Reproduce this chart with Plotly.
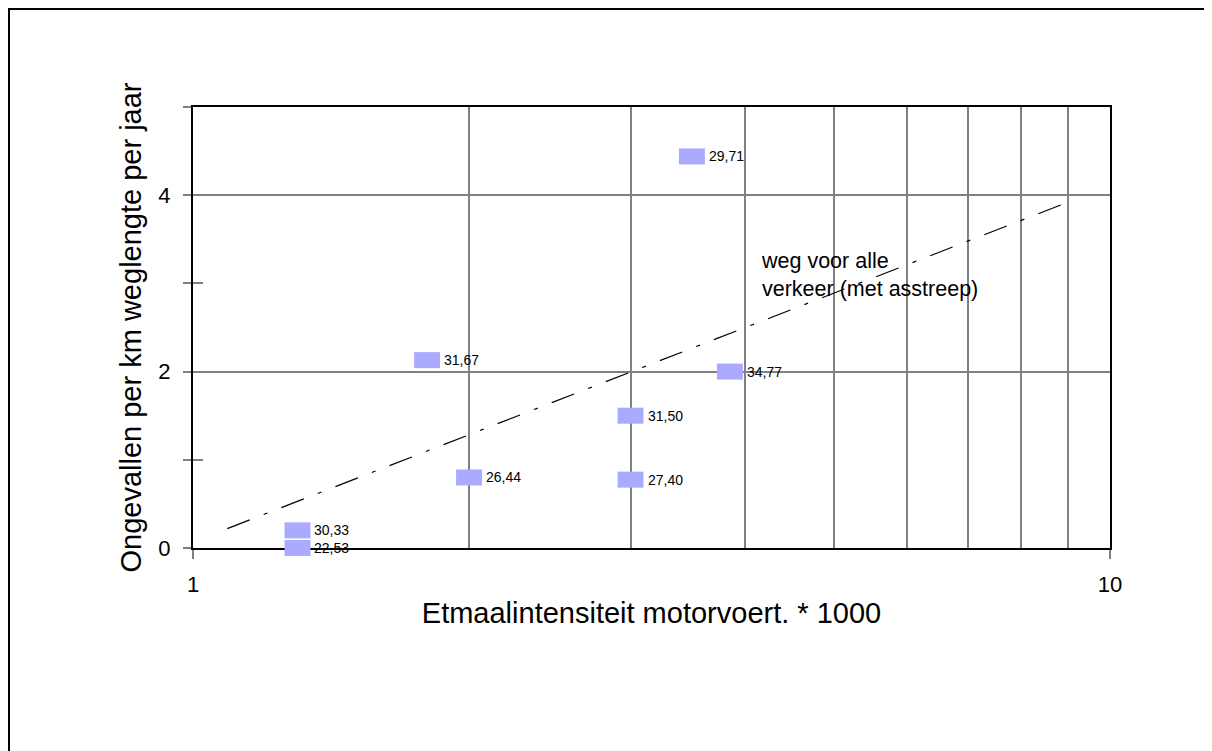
import numpy as np
import plotly.graph_objects as go

# Data
intensity = [1.3, 1.3, 1.8, 2.0, 3.0, 3.0, 3.5, 3.85]
accidents = [0.0, 0.2, 2.13, 0.8, 1.5, 0.775, 4.44, 2.0]
point_labels = ["22,53", "30,33", "31,67", "26,44", "31,50", "27,40", "29,71", "34,77"]

trend_x = [1.09, 9.1]
trend_y = [0.22, 3.94]

x_tickvals = [1, 10]
x_ticktext = ["1", "10"]
x_minor = [2, 3, 4, 5, 6, 7, 8, 9]
y_major = [0, 2, 4]
y_minor = [1, 3, 5]
y_all = [0, 1, 2, 3, 4, 5]

FONT = "Arial, 'Liberation Sans', sans-serif"
GRID = "#808080"
MARK = "#AAAAFF"

W, H = 1204, 743
L, T, PW, PH = 185, 99, 917, 441

fig = go.Figure()

fig.add_trace(go.Scatter(
    x=intensity, y=accidents, mode="markers",
    marker=dict(symbol="line-ew", size=18.5, color=MARK,
                line=dict(color=MARK, width=16)),
    cliponaxis=False, showlegend=False, hoverinfo="skip"))

fig.add_trace(go.Scatter(
    x=trend_x, y=trend_y, mode="lines", yaxis="y2",
    line=dict(color="black", width=1.2, dash="24px,15px,4px,15px"),
    showlegend=False, hoverinfo="skip"))

annotations = []
for xv, yv, lab in zip(intensity, accidents, point_labels):
    annotations.append(dict(
        x=np.log10(xv), y=yv, xref="x", yref="y", text=lab, showarrow=False,
        xanchor="left", yanchor="middle", xshift=15,
        font=dict(family=FONT, size=14, color="black")))

annotations.append(dict(
    x=np.log10(4.14), y=3.09, xref="x", yref="y",
    text="weg voor alle<br>verkeer (met asstreep)", showarrow=False,
    xanchor="left", yanchor="middle", align="left",
    font=dict(family=FONT, size=21.5, color="black")))

fig.update_layout(
    width=W, height=H,
    margin=dict(l=L, r=W - L - PW, t=T, b=H - T - PH),
    paper_bgcolor="white", plot_bgcolor="white",
    font=dict(family=FONT, color="black"),
    showlegend=False,
    xaxis=dict(
        type="log", range=[0, 1],
        tickvals=x_tickvals, ticktext=x_ticktext,
        ticks="outside", ticklen=9, tickwidth=1.5, tickcolor=GRID,
        tickfont=dict(family=FONT, size=22, color="black"),
        ticklabelstandoff=7,
        showgrid=True, gridcolor=GRID, gridwidth=1.5,
        minor=dict(tickvals=x_minor, showgrid=True, gridcolor=GRID,
                   gridwidth=1.5, ticks=""),
        showline=True, linecolor="black", linewidth=2, mirror=True,
        zeroline=False, layer="below traces",
        title=dict(text="Etmaalintensiteit motorvoert. * 1000",
                   font=dict(family=FONT, size=29, color="black"),
                   standoff=6),
    ),
    yaxis=dict(
        range=[0, 5],
        tickvals=y_major, ticktext=[str(v) for v in y_major],
        ticks="outside", ticklen=8, tickwidth=1.5, tickcolor=GRID,
        tickfont=dict(family=FONT, size=22, color="black"),
        ticklabelstandoff=8,
        showgrid=True, gridcolor=GRID, gridwidth=1.5,
        minor=dict(tickvals=y_minor, ticks="outside", ticklen=8,
                   tickwidth=1.5, tickcolor=GRID, showgrid=False),
        showline=True, linecolor="black", linewidth=2, mirror=True,
        zeroline=False, layer="below traces",
        title=dict(text="Ongevallen per km weglengte per jaar",
                   font=dict(family=FONT, size=29, color="black"),
                   standoff=8),
    ),
    yaxis2=dict(
        range=[0, 5], overlaying="y", side="left",
        tickvals=y_all, ticks="inside", ticklen=10, tickwidth=1.5,
        tickcolor=GRID, showticklabels=False, showgrid=False,
        showline=False, zeroline=False,
    ),
    annotations=annotations,
    shapes=[dict(type="rect", xref="paper", yref="paper",
                 x0=(1 - L) / PW, x1=(W - 2 - L) / PW,
                 y0=-0.5, y1=(T + PH - 1) / PH,
                 line=dict(color="black", width=2), fillcolor="rgba(0,0,0,0)")],
)

fig.write_html("out.html")
